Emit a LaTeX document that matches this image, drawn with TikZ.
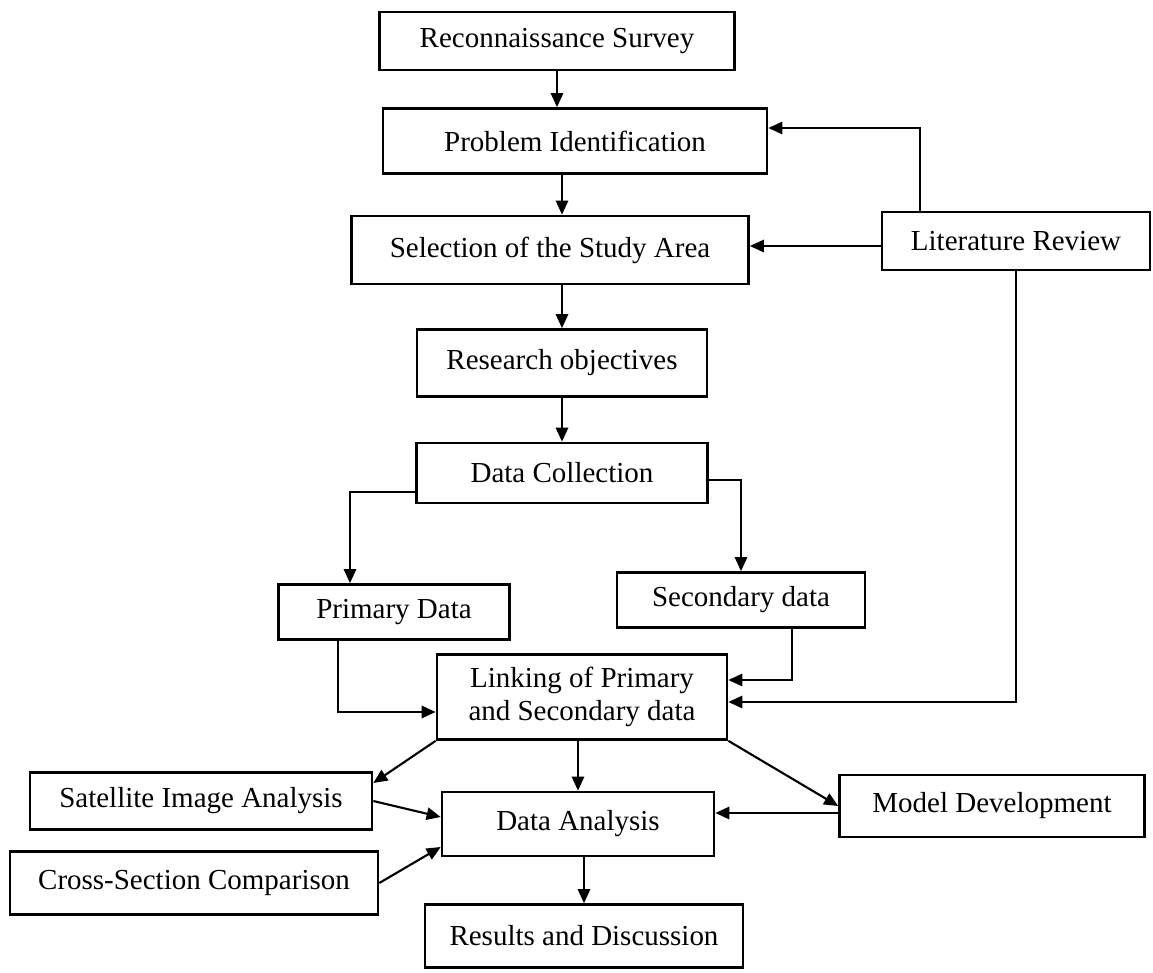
\documentclass[tikz,border=0pt]{standalone}
\usepackage{fontspec}
\setmainfont{Liberation Serif}
\usetikzlibrary{arrows.meta,calc}
\tikzstyle{flow edge} = [draw,line width=1.2pt,-{Triangle[length=8pt,width=7pt]}]

\begin{document}
\begin{tikzpicture}
[x=0.02cm,y=-0.02cm,%
stage/.style={shape=rectangle,draw,line width=1.5pt,align=center,inner sep=2pt,font=\fontsize{16.5}{18.5}\selectfont}]

\useasboundingbox (0,0) rectangle (1153,973);

%% boxes of the chart
\foreach \nodename/\x/\y/\w/\h/\txt in {
recon/557/41/355/58/Reconnaissance Survey, probid/575/141/384/65/Problem Identification,
select/550/250/397/68/Selection of the Study Area, litrev/1016/241/268/58/Literature Review,
resobj/562/363/290/67/Research objectives, datacol/562/473/291/60/Data Collection,
primary/394/612/231/55/Primary Data, secondary/741/600/248/55/Secondary data,
linking/582/697/290/85/{Linking of Primary\\and Secondary data},
satellite/201/801/342/57/Satellite Image Analysis, crosssec/194/883/368/63/Cross-Section Comparison,
analysis/578/824/272/64/Data Analysis, model/992/806/305/62/Model Development,
results/584/936/318/63/Results and Discussion}
{
\node (\nodename) at (\x,\y) [stage, minimum width=\w*0.02cm, minimum height=\h*0.02cm] {\txt};
}

%% arrows down the middle
\draw[flow edge] (recon.south) -- (recon.south |- probid.north);
\draw[flow edge] (probid.south -| resobj.north) -- (select.north -| resobj.north);
\draw[flow edge] (select.south -| resobj.north) -- (resobj.north);
\draw[flow edge] (resobj.south) -- (resobj.south |- datacol.north);
\draw[flow edge] (linking.south -| analysis.north) -- (analysis.north);
\draw[flow edge] (analysis.south -| results.north) -- (results.north);

%% literature review
\draw[flow edge] ($(litrev.north)+(-96,0)$) |- ($(probid.east)+(0,-13)$);
\draw[flow edge] ($(litrev.west)+(0,5)$) -- ($(select.east)+(0,-4)$);
\draw[flow edge] (litrev.south) |- ($(linking.east)+(0,5)$);

%% data collection
\draw[flow edge] ($(datacol.west)+(0,19)$) -| ($(primary.north)+(-44,0)$);
\draw[flow edge] ($(datacol.east)+(0,7)$) -| (secondary.north);
\draw[flow edge] ($(primary.south)+(-56,0)$) |- ($(linking.west)+(0,15)$);
\draw[flow edge] ($(secondary.south)+(51,0)$) |- ($(linking.east)+(0,-17)$);

%% analysis part
\draw[flow edge] (linking.south west) -- ($(satellite.east)+(0,-18)$);
\draw[flow edge] (linking.south east) -- (model.west);
\draw[flow edge] (satellite.east) -- ($(analysis.west)+(0,-7)$);
\draw[flow edge] (crosssec.east) -- ($(analysis.west)+(0,23)$);
\draw[flow edge] ($(model.west)+(0,7)$) -- ($(analysis.east)+(0,-11)$);

\end{tikzpicture}
\end{document}
